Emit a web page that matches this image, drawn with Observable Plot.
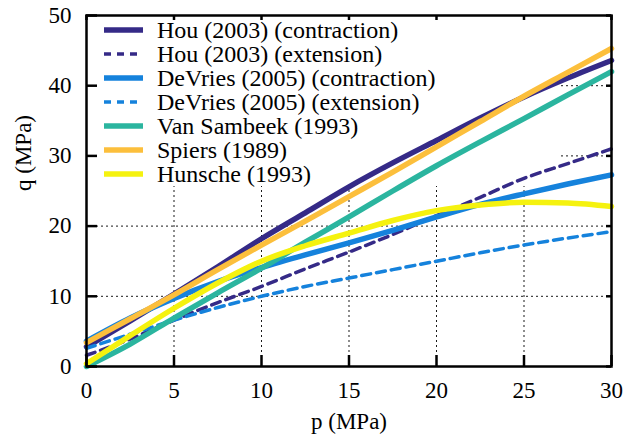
<!DOCTYPE html>
<html><head><meta charset="utf-8">
<script src="https://cdn.jsdelivr.net/npm/d3@7"></script>
<script src="https://cdn.jsdelivr.net/npm/@observablehq/plot@0.6"></script>
<style>
body{margin:0;background:#fff}
#chart svg, #chart svg text{font-family:"Liberation Serif","Times New Roman",serif !important; font-size:23px;}
#chart svg g.legend text{font-size:24px;}
</style>
</head><body><div id="chart"></div>
<script>
// p values (MPa)
const pValues = [0, 2.5, 5, 7.5, 10, 12.5, 15, 17.5, 20, 22.5, 25, 27.5, 30];
// q values (MPa) per series
const houContraction     = [2.8, 6.5, 10.3, 14.2, 18.2, 21.9, 25.6, 29.0, 32.2, 35.4, 38.4, 41.1, 43.6];
const houExtension       = [1.6, 3.9, 6.6, 9.1, 11.4, 13.9, 16.3, 18.8, 21.5, 24.1, 26.8, 28.9, 31.0];
const devriesContraction = [3.6, 6.9, 9.7, 12.1, 14.1, 15.9, 17.6, 19.4, 21.3, 23.1, 24.6, 26.0, 27.3];
const devriesExtension   = [2.6, 4.6, 6.6, 8.4, 10.0, 11.4, 12.6, 13.8, 15.0, 16.2, 17.3, 18.3, 19.2];
const vanSambeek         = [0.0, 3.2, 6.9, 10.5, 14.0, 17.7, 21.3, 25.0, 28.6, 32.0, 35.3, 38.7, 42.0];
const spiers             = [3.4, 6.8, 10.2, 13.8, 17.3, 20.7, 24.2, 27.7, 31.3, 34.9, 38.5, 41.9, 45.3];
const hunsche            = [0.4, 4.4, 8.3, 11.9, 15.0, 17.2, 19.0, 20.8, 22.2, 23.0, 23.4, 23.3, 22.8];

const seriesNames = ["Hou (2003) (contraction)", "Hou (2003) (extension)", "DeVries (2005) (contraction)",
  "DeVries (2005) (extension)", "Van Sambeek (1993)", "Spiers (1989)", "Hunsche (1993)"];
const seriesColors = ["#352a87", "#352a87", "#1582dc", "#1582dc", "#2bb59f", "#fcbf3c", "#f5f20f"];
const seriesDashed = [false, true, false, true, false, false, false];
const xTicks = [0, 5, 10, 15, 20, 25, 30];
const yTicks = [0, 10, 20, 30, 40, 50];

const seriesValues = [houContraction, houExtension, devriesContraction, devriesExtension, vanSambeek, spiers, hunsche];
const rows = seriesValues.flatMap((vals, i) => vals.map((q, j) => ({p: pValues[j], q, s: i})));

const W = 627, H = 444, mL = 86, mR = 16, mT = 15, mB = 78;
const fw = W - mL - mR, fh = H - mT - mB;
const solidW = 5.5, dashW = 3.5, dash = "9,6";

const lineMarks = seriesNames.map((n, i) => Plot.line(rows.filter(d => d.s === i), {
  x: "p", y: "q", stroke: seriesColors[i],
  strokeWidth: seriesDashed[i] ? dashW : solidW,
  strokeDasharray: seriesDashed[i] ? dash : null,
  curve: "monotone-x"
}));

const grid = {stroke: "#000", strokeWidth: 1, strokeDasharray: "2,3", strokeOpacity: 0.9};
const tick = {stroke: "#000", strokeWidth: 2.5};

const chart = Plot.plot({
  width: W, height: H,
  marginLeft: mL, marginRight: mR, marginTop: mT, marginBottom: mB,
  style: {fontSize: "23px", color: "#000", background: "#fff"},
  x: {domain: [0, 30]},
  y: {domain: [0, 50]},
  marks: [
    Plot.ruleX(xTicks.slice(1, -1), grid),
    Plot.ruleY(yTicks.slice(1, -1), grid),
    ...lineMarks,
    Plot.frame({stroke: "#000", strokeWidth: 2.5}),
    Plot.ruleX(xTicks, {...tick, insetTop: fh - 11}),
    Plot.ruleX(xTicks, {...tick, insetBottom: fh - 5}),
    Plot.ruleY(yTicks, {...tick, insetRight: fw - 11}),
    Plot.ruleY(yTicks, {...tick, insetLeft: fw - 5}),
    Plot.axisX(xTicks, {tickSize: 0, tickPadding: 15, label: null}),
    Plot.axisY(yTicks, {tickSize: 0, tickPadding: 15, label: null}),
    Plot.text(["p (MPa)"], {frameAnchor: "bottom", dy: 62}),
    Plot.text(["q (MPa)"], {frameAnchor: "left", dx: -63, rotate: -90})
  ]
});
document.getElementById("chart").appendChild(chart);

// legend: opaque box behind curves, covering the grid
const svg = d3.select(chart);
const firstLine = chart.querySelector('g[aria-label="line"]');
const bg = document.createElementNS("http://www.w3.org/2000/svg", "rect");
bg.setAttribute("x", mL + 1); bg.setAttribute("y", mT + 1);
bg.setAttribute("width", 473); bg.setAttribute("height", 170);
bg.setAttribute("fill", "#fff");
firstLine.parentNode.insertBefore(bg, firstLine);

const lg = svg.append("g").attr("class", "legend").attr("aria-label", "legend").attr("text-anchor", "start");
seriesNames.forEach((n, i) => {
  const y = 30 + 24 * i;
  lg.append("line").attr("x1", 104).attr("x2", 143).attr("y1", y).attr("y2", y)
    .attr("stroke", seriesColors[i])
    .attr("stroke-width", seriesDashed[i] ? dashW : solidW)
    .attr("stroke-dasharray", seriesDashed[i] ? "7,6" : null);
  lg.append("text").attr("x", 157).attr("y", y).attr("dy", "0.33em")
    .attr("text-anchor", "start").attr("fill", "#000").text(n);
});
</script>
</body></html>
